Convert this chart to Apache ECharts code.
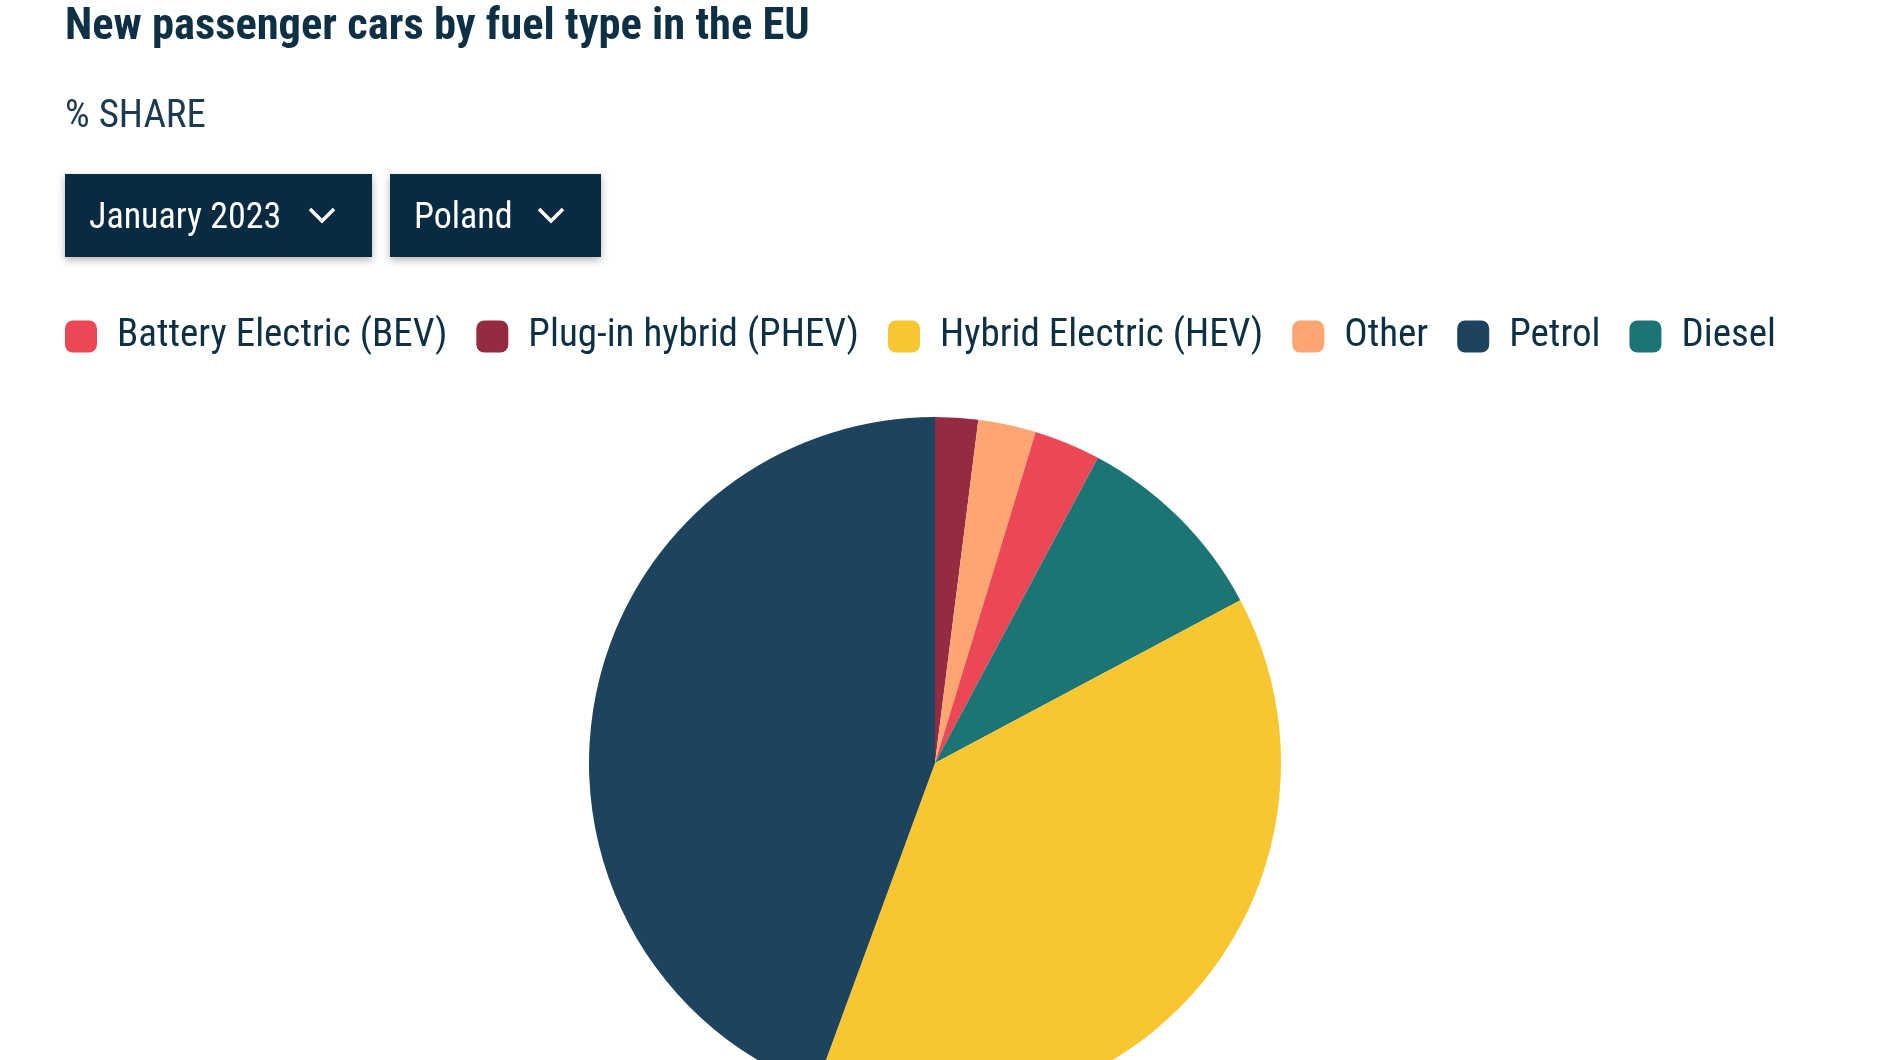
<!DOCTYPE html>
<html>
<head>
<meta charset="utf-8">
<title>New passenger cars by fuel type in the EU</title>
<script src="https://cdn.jsdelivr.net/npm/echarts@6/dist/echarts.min.js"></script>
<style>
  html, body { margin: 0; padding: 0; background: #fff; }
  #chart { width: 1880px; height: 1060px; }
</style>
</head>
<body>
<div id="chart"></div>
<script>
// legend order
const categories = ['Battery Electric (BEV)', 'Plug-in hybrid (PHEV)', 'Hybrid Electric (HEV)', 'Other', 'Petrol', 'Diesel'];
const shares = [3.1, 2.0, 38.4, 2.7, 44.4, 9.4];
const colors = ['#ec4755', '#952b41', '#f8c630', '#fda671', '#1d435f', '#1c7574'];
const monthLabel = 'January 2023';
const countryLabel = 'Poland';

const FONT = "'Roboto Condensed', 'Liberation Sans Narrow', 'DejaVu Sans Condensed', Roboto, sans-serif";
const DARK = '#0e3044';
const BOX = '#082b42';

// slices go clockwise from the top, smallest first
const pieData = categories
  .map((name, i) => ({ name, value: shares[i], itemStyle: { color: colors[i] } }))
  .sort((a, b) => a.value - b.value);

const chart = echarts.init(document.getElementById('chart'));

function dropdown(x, w, label, cx) {
  return [
    {
      type: 'rect',
      shape: { x: x, y: 174, width: w, height: 83 },
      style: { fill: BOX, shadowBlur: 8, shadowOffsetY: 3, shadowColor: 'rgba(0,0,0,0.3)' }
    },
    {
      type: 'text',
      x: x + 24,
      y: 219,
      style: { text: label, fill: '#fff', fontFamily: FONT, fontSize: 36, verticalAlign: 'middle' }
    },
    {
      type: 'polyline',
      shape: { points: [[cx - 12, 209], [cx, 221], [cx + 12, 209]] },
      style: { stroke: '#fff', lineWidth: 3.5, fill: null }
    }
  ];
}

chart.setOption({
  animation: false,
  title: {
    text: 'New passenger cars by fuel type in the EU',
    subtext: '% SHARE',
    left: 60,
    top: 0,
    itemGap: 48,
    textStyle: { color: DARK, fontFamily: FONT, fontSize: 44.5, fontWeight: 'bold' },
    subtextStyle: { color: '#1d3b50', fontFamily: FONT, fontSize: 39, fontWeight: 'normal' }
  },
  legend: {
    data: categories,
    left: 60,
    top: 312,
    icon: 'roundRect',
    itemWidth: 32,
    itemHeight: 32,
    itemGap: 29,
    selectedMode: false,
    textStyle: { color: DARK, fontFamily: FONT, fontSize: 39, padding: [0, 0, 0, 15] }
  },
  graphic: [].concat(dropdown(65, 307, monthLabel, 322), dropdown(390, 211, countryLabel, 551)),
  series: [
    {
      type: 'pie',
      center: [935, 763],
      radius: 346,
      startAngle: 90,
      clockwise: true,
      label: { show: false },
      labelLine: { show: false },
      emphasis: { disabled: true },
      data: pieData
    }
  ]
});
</script>
</body>
</html>
